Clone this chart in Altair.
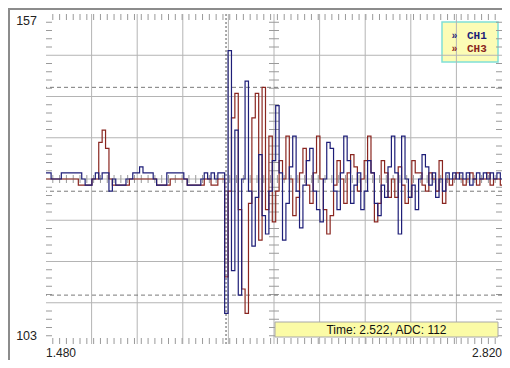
import altair as alt
import pandas as pd

# ---------------- data ----------------
T_START, T_END = 1.480, 2.820
ADC_MIN, ADC_MAX = 103, 157
DT = 0.01

ch1 = [131, 131, 130, 130, 130, 131, 131, 131, 131, 131,
       131, 130, 129, 129, 130, 131, 130, 131, 131, 128,
       130, 129, 129, 129, 130, 130, 131, 131, 132, 131,
       131, 131, 130, 129, 129, 129, 131, 131, 131, 131,
       131, 130, 129, 129, 129, 129, 130, 131, 130, 131,
       130, 131, 131,
       108, 151, 115, 138, 111, 130, 146, 128, 119, 127,
       134, 124, 121, 128, 133, 142, 131, 120, 126, 132,
       137, 128, 122, 129, 133, 135, 128, 125, 123, 130,
       136, 135, 128, 125, 131, 137, 133, 126, 129, 131,
       125, 128, 133, 131, 126, 124, 129, 127, 132, 137,
       131, 121, 137, 130, 127, 129, 125, 130, 134, 132,
       129, 131, 127, 130, 128, 131, 130, 131, 130, 131,
       130, 131, 129, 130, 131, 130, 131, 130, 131, 130,
       131, 130]

ch3 = [130, 130, 130, 130, 130, 130, 130, 130, 130, 130,
       129, 129, 129, 129, 130, 130, 136, 138, 135, 130,
       129, 129, 129, 129, 129, 130, 130, 130, 130, 130,
       130, 130, 130, 129, 129, 129, 129, 130, 130, 130,
       130, 130, 129, 129, 129, 129, 129, 130, 130, 129,
       129, 130, 130,
       114, 128, 140, 144, 125, 112, 108, 126, 140, 144,
       120, 145, 125, 137, 123, 128, 133, 130, 137, 130,
       124, 127, 131, 135, 129, 126, 131, 137, 130, 125,
       121, 124, 129, 133, 130, 126, 131, 134, 132, 128,
       130, 133, 137, 131, 123, 126, 133, 131, 127, 130,
       127, 132, 129, 126, 127, 133, 131, 131, 129, 128,
       131, 130, 128, 133, 126, 130, 129, 130, 131, 130,
       129, 130, 131, 130, 129, 130, 130, 131, 129, 130,
       130, 129]

time = [round(T_START + DT * i, 3) for i in range(len(ch1))]

level_lines = [145, 128, 111]      # dashed level lines
cursor_time = [2.009]               # dotted cursor
x_tick_labels = ["1.480", "2.820"]
x_tick_values = [1.480, 2.820]
y_tick_labels = ["157", "103"]
y_tick_values = [157, 103]
legend_labels = ["CH1", "CH3"]
status_text = "Time: 2.522, ADC: 112"

# ---------------- layout / style ----------------
W, H = 456, 330
PAD = {"left": 38, "top": 6, "right": 0, "bottom": 16}
N_XDIV, N_YDIV, N_YSUB = 10, 8, 5
X_MINOR_STEP = 0.02
C1, C3 = "#1e1e78", "#8a2620"
GRID = "#b4b4b4"

xs = alt.Scale(domain=[T_START, T_END], nice=False, zero=False)
ys = alt.Scale(domain=[ADC_MIN, ADC_MAX], nice=False, zero=False)

def xq(f):
    return alt.X(f, type="quantitative", scale=xs, axis=None)

def yq(f):
    return alt.Y(f, type="quantitative", scale=ys, axis=None)

one = pd.DataFrame({"a": [0]})

xdiv = (T_END - T_START) / N_XDIV
ydiv = (ADC_MAX - ADC_MIN) / N_YDIV
xgrid = pd.DataFrame({"t": [T_START + xdiv * k for k in range(1, N_XDIV)]})
ygrid = pd.DataFrame({"v": [ADC_MIN + ydiv * k for k in range(1, N_YDIV)]})
xminor = pd.DataFrame({"t": [round(1.50 + X_MINOR_STEP * k, 3) for k in range(66)]})
yminor = pd.DataFrame({"v": [ADC_MIN + ydiv * k / N_YSUB for k in range(1, N_YDIV * N_YSUB) if k % N_YSUB]})
cx = W / 2
cy = H / 2

frame = alt.Chart(one).mark_rect(fill="white", stroke="#8c8c8c", strokeWidth=2).encode(
    x=alt.value(-37), x2=alt.value(W + 12), y=alt.value(-5), y2=alt.value(H + 40))

legend_box = alt.Chart(one).mark_rect(fill="#fcfcb6", stroke="#80e0d6", strokeWidth=1.5).encode(
    x=alt.value(W - 60), x2=alt.value(W - 4), y=alt.value(8), y2=alt.value(48))

gx = alt.Chart(xgrid).mark_rule(color=GRID, strokeWidth=1).encode(x=xq("t"))
gy = alt.Chart(ygrid).mark_rule(color=GRID, strokeWidth=1).encode(y=yq("v"))

tick_col = "#9a9a9a"
t_top = alt.Chart(xminor).mark_rule(color=tick_col).encode(x=xq("t"), y=alt.value(0), y2=alt.value(6))
t_bot = alt.Chart(xminor).mark_rule(color=tick_col).encode(x=xq("t"), y=alt.value(H - 6), y2=alt.value(H))
t_cx = alt.Chart(xminor).mark_rule(color=tick_col).encode(x=xq("t"), y=alt.value(cy - 4), y2=alt.value(cy + 4))
t_left = alt.Chart(yminor).mark_rule(color=tick_col).encode(y=yq("v"), x=alt.value(0), x2=alt.value(6))
t_right = alt.Chart(yminor).mark_rule(color=tick_col).encode(y=yq("v"), x=alt.value(W - 6), x2=alt.value(W))
t_cy = alt.Chart(yminor).mark_rule(color=tick_col).encode(y=yq("v"), x=alt.value(cx - 5), x2=alt.value(cx + 5))

levels = alt.Chart(pd.DataFrame({"v": level_lines})).mark_rule(
    color="#7a7a7a", strokeDash=[4, 3], strokeWidth=1).encode(y=yq("v"))
cursor = alt.Chart(pd.DataFrame({"t": cursor_time})).mark_rule(
    color="#555555", strokeDash=[2, 2], strokeWidth=1).encode(x=xq("t"))

sig = pd.DataFrame({"t": time, "CH1": ch1, "CH3": ch3})
line3 = alt.Chart(sig).mark_line(color=C3, strokeWidth=1.2, interpolate="step").encode(
    x=xq("t"), y=yq("CH3"))
line1 = alt.Chart(sig).mark_line(color=C1, strokeWidth=1.2, interpolate="step").encode(
    x=xq("t"), y=yq("CH1"))

status_box = alt.Chart(one).mark_rect(fill="#fbfba6", stroke="#a8a8a8", strokeWidth=1).encode(
    x=alt.value(W - 227), x2=alt.value(W - 4), y=alt.value(308), y2=alt.value(323))
status = alt.Chart(pd.DataFrame({"s": [status_text]})).mark_text(
    font="Liberation Sans", fontSize=12, color="#111111", align="center", baseline="alphabetic").encode(
    x=alt.value(W - 115.5), y=alt.value(320), text="s:N")

font = "Liberation Sans"
ylab_df = pd.DataFrame({"v": y_tick_values, "s": y_tick_labels})
ylab_top = alt.Chart(ylab_df.iloc[[0]]).mark_text(
    font=font, fontSize=12.5, color="#222222", align="right", baseline="top", dx=-9, dy=1).encode(
    y=yq("v"), x=alt.value(0), text="s:N")
ylab_bot = alt.Chart(ylab_df.iloc[[1]]).mark_text(
    font=font, fontSize=12.5, color="#222222", align="right", baseline="alphabetic", dx=-9, dy=-4).encode(
    y=yq("v"), x=alt.value(0), text="s:N")
xlab_df = pd.DataFrame({"t": x_tick_values, "s": x_tick_labels})
xlab_l = alt.Chart(xlab_df.iloc[[0]]).mark_text(
    font=font, fontSize=12, color="#222222", align="left", baseline="alphabetic").encode(
    x=xq("t"), y=alt.value(H + 13), text="s:N")
xlab_r = alt.Chart(xlab_df.iloc[[1]]).mark_text(
    font=font, fontSize=12, color="#222222", align="right", baseline="alphabetic").encode(
    x=xq("t"), y=alt.value(H + 13), text="s:N")

leg_df = pd.DataFrame({"s": legend_labels, "c": [C1, C3], "yy": [25, 38]})
leg_arrow = alt.Chart(leg_df).mark_text(
    font="Liberation Mono", fontSize=10, fontWeight="bold", align="center", baseline="alphabetic").encode(
    x=alt.value(W - 47.5), y=alt.Y("yy:Q", scale=None, axis=None),
    text=alt.value("»"), color=alt.Color("c:N", scale=None))
leg_text = alt.Chart(leg_df).mark_text(
    font="Liberation Mono", fontSize=11, fontWeight="bold", align="left", baseline="alphabetic").encode(
    x=alt.value(W - 35), y=alt.Y("yy:Q", scale=None, axis=None),
    text="s:N", color=alt.Color("c:N", scale=None))

chart = alt.layer(
    frame, legend_box, gx, gy, t_top, t_bot, t_cx, t_left, t_right, t_cy,
    levels, cursor, line3, line1, status_box, status,
    ylab_top, ylab_bot, xlab_l, xlab_r, leg_arrow, leg_text
).resolve_scale(y="independent").properties(
    width=W, height=H,
    padding=PAD,
    autosize=alt.AutoSizeParams(type="none"),
).configure_view(stroke="#8c8c8c", strokeWidth=1)

chart.save("out.html", embed_options={"renderer": "svg", "actions": False})
